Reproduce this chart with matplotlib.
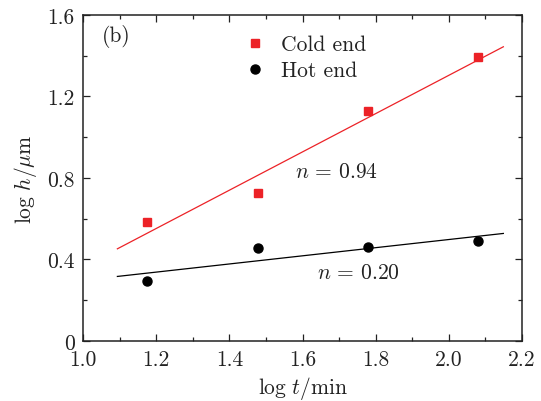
import numpy as np
import matplotlib
matplotlib.use("Agg")
import matplotlib.pyplot as plt
from matplotlib.ticker import MultipleLocator, FixedLocator, FixedFormatter

plt.rcParams['font.family'] = 'cmr10'
plt.rcParams['mathtext.fontset'] = 'cm'
plt.rcParams['axes.unicode_minus'] = False
plt.rcParams['axes.formatter.use_mathtext'] = True

# Data
log_t = [1.176, 1.477, 1.778, 2.079]
cold_end = [0.586, 0.725, 1.129, 1.392]
hot_end = [0.293, 0.456, 0.460, 0.489]
# linear fits (slope n, intercept) and fitted range
cold_fit = (0.94, -0.576)
hot_fit = (0.20, 0.098)
fit_range = [1.094, 2.149]
xticks = [1.0, 1.2, 1.4, 1.6, 1.8, 2.0, 2.2]
xticklabels = ['1.0', '1.2', '1.4', '1.6', '1.8', '2.0', '2.2']
yticks = [0, 0.4, 0.8, 1.2, 1.6]
yticklabels = ['0', '0.4', '0.8', '1.2', '1.6']

FS = 15.5
red = '#ec2227'
fig = plt.figure(figsize=(5.41, 4.02), dpi=100)
ax = fig.add_axes([0.1534, 0.1493, 0.8115, 0.8109])

xf = np.array(fit_range)
ax.plot(xf, cold_fit[0] * xf + cold_fit[1], color=red, lw=0.9)
ax.plot(xf, hot_fit[0] * xf + hot_fit[1], color='black', lw=0.9)
ax.plot(log_t, cold_end, 's', color=red, ms=6, mec=red, label='Cold end', ls='none')
ax.plot(log_t, hot_end, 'o', color='black', ms=6.5, label='Hot end', ls='none')

ax.set_xlim(1.0, 2.2)
ax.set_ylim(0, 1.6)
ax.xaxis.set_major_locator(FixedLocator(xticks))
ax.xaxis.set_major_formatter(FixedFormatter(xticklabels))
ax.yaxis.set_major_locator(FixedLocator(yticks))
ax.yaxis.set_major_formatter(FixedFormatter(yticklabels))
ax.xaxis.set_minor_locator(MultipleLocator(0.1))
ax.yaxis.set_minor_locator(MultipleLocator(0.2))
ax.tick_params(which='both', direction='in', top=True, right=True, colors='#222222', labelsize=FS)
ax.tick_params(which='major', length=5, width=0.9)
ax.tick_params(which='minor', length=3, width=0.9)
ax.tick_params(axis='x', pad=6)
ax.tick_params(axis='y', pad=6)
for s in ax.spines.values():
    s.set_linewidth(1.1)
    s.set_color('#222222')

ax.set_xlabel(r'$\log\,t/\mathrm{min}$', fontsize=FS, color='#222222', labelpad=4)
ax.set_ylabel(r'$\log\,h/\mathrm{\mu m}$', fontsize=FS, color='#222222', labelpad=6)

ax.text(1.052, 1.50, '(b)', fontsize=FS, color='#222222', va='center')
ax.text(1.58, 0.835, r'$n\,=\,0.94$', fontsize=FS, color='#222222', va='center')
ax.text(1.64, 0.335, r'$n\,=\,0.20$', fontsize=FS, color='#222222', va='center')

leg = ax.legend(loc='upper left', bbox_to_anchor=(0.362, 0.939), frameon=False,
                fontsize=FS, handletextpad=0.6, labelspacing=0.3, handlelength=1.2,
                borderaxespad=0, borderpad=0)
for t in leg.get_texts():
    t.set_color('#222222')

fig.savefig('out.png', dpi=100)
